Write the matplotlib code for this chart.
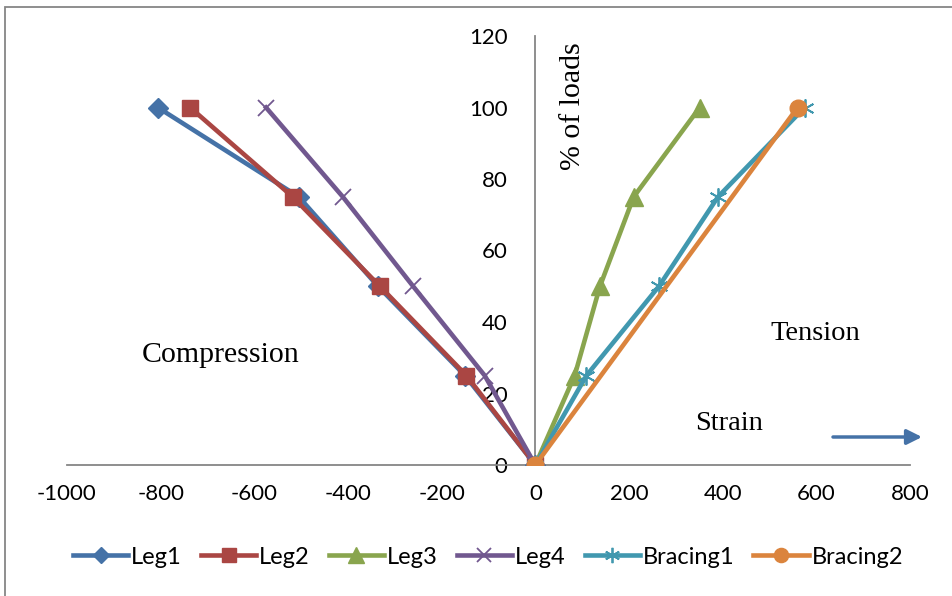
import matplotlib
matplotlib.use("Agg")
import matplotlib.pyplot as plt
from matplotlib.patches import Rectangle

plt.rcParams["axes.unicode_minus"] = False

loads = [0, 25, 50, 75, 100]
leg1 = [0, -150, -336, -505, -806]
leg2 = [0, -147, -332, -518, -737]
leg3 = [0, 84, 138, 210, 351]
leg4 = [0, -108, -261, -411, -575]
bracing1 = [0, 109, 264, 390, 575]
bracing2_x = [0, 560]
bracing2_y = [0, 100]

xticks = [-1000, -800, -600, -400, -200, 0, 200, 400, 600, 800]
yticks = [0, 20, 40, 60, 80, 100, 120]

W, H = 953, 596
fig = plt.figure(figsize=(W / 100, H / 100), dpi=100)
ax = fig.add_axes([67 / W, (H - 465) / H, (910 - 67) / W, (465 - 36) / H])

blue = "#4572A7"
red = "#AA4643"
green = "#89A54E"
purple = "#71588F"
aqua = "#4198AF"
orange = "#DB843D"

lw = 3.3
ax.plot(leg1, loads, color=blue, lw=lw, marker="D", ms=10, label="Leg1", zorder=3)
ax.plot(leg2, loads, color=red, lw=lw, marker="s", ms=12, label="Leg2", zorder=3)
ax.plot(leg3, loads, color=green, lw=lw, marker="^", ms=13, label="Leg3", zorder=3)
ax.plot(leg4, loads, color=purple, lw=lw, marker="x", ms=12, mew=1.3, label="Leg4", zorder=3)
ax.plot(bracing1, loads, color=aqua, lw=lw, marker=(6, 2, 0), ms=13, mew=1.3, label="Bracing1", zorder=3)
ax.plot(bracing2_x, bracing2_y, color=orange, lw=lw, marker="o", ms=12, label="Bracing2", zorder=3)

ax.set_xlim(-1000, 800)
ax.set_ylim(0, 120)
ax.set_xticks(xticks)
ax.set_yticks(yticks)

tick_font = "Lato"
ax.tick_params(axis="both", length=0, labelsize=16, labelfontfamily=tick_font)
ax.tick_params(axis="x", pad=14)
ax.tick_params(axis="y", pad=20)

for s in ["top", "right"]:
    ax.spines[s].set_visible(False)
ax.spines["left"].set_position(("data", 0))
ax.spines["bottom"].set_position(("data", 0))
for s in ["left", "bottom"]:
    ax.spines[s].set_color("#868686")
    ax.spines[s].set_linewidth(1.3)
ax.patch.set_alpha(0)

serif = "Liberation Serif"
ax.text(-673, 30.8, "Compression", fontfamily=serif, fontsize=21.5, ha="center", va="center")
ax.text(597, 36.9, "Tension", fontfamily=serif, fontsize=20.5, ha="center", va="center")
ax.text(413, 11.5, "Strain", fontfamily=serif, fontsize=20.5, ha="center", va="center")
ax.text(80, 100.4, "% of loads", fontfamily=serif, fontsize=21.5, ha="center", va="center", rotation=90)

ax.annotate("", xy=(922 / W, (H - 437) / H), xytext=(833 / W, (H - 437) / H),
            xycoords="figure fraction", textcoords="figure fraction",
            arrowprops=dict(arrowstyle="-|>,head_length=0.9,head_width=0.45", color=blue, lw=2.5,
                            shrinkA=0, shrinkB=0))

leg = fig.legend(loc="center", bbox_to_anchor=(488 / W, (H - 557) / H), ncol=6, frameon=False,
                 prop={"family": tick_font, "size": 17}, handlelength=2.35, handletextpad=0.12,
                 columnspacing=0.8, borderaxespad=0, markerscale=0.85)

fig.patches.append(Rectangle((5 / W, -0.1), 1.2, (H - 7) / H + 0.1, transform=fig.transFigure,
                             fill=False, edgecolor="#868686", lw=1.3))

fig.savefig("out.png", dpi=100)
